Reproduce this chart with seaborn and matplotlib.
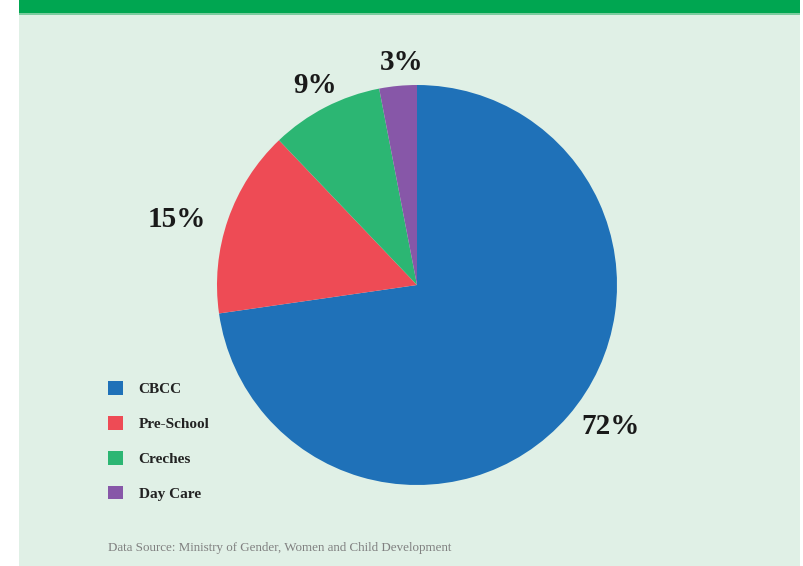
import matplotlib
matplotlib.use("Agg")
import matplotlib.pyplot as plt
from matplotlib.patches import Rectangle, Patch
import seaborn as sns

# Enrolment share by type of early childhood centre
categories = ["CBCC", "Pre-School", "Creches", "Day Care"]
shares = [72, 15, 9, 3]
pct_labels = ["72%", "15%", "9%", "3%"]
source_note = "Data Source: Ministry of Gender, Women and Child Development"

sns.set_theme(style="white")
plt.rcParams["font.family"] = ["Liberation Serif", "DejaVu Serif"]

colors = sns.color_palette(["#1f71b8", "#ee4b55", "#2cb673", "#8757a8"])

W, H = 804, 566
fig = plt.figure(figsize=(W / 100, H / 100), dpi=100, facecolor="white")
ax = fig.add_axes([0, 0, 1, 1])

# panel background and header band
ax.add_patch(Rectangle((19, 0), 781, H, facecolor="#e0f0e6", edgecolor="none", zorder=0))
ax.add_patch(Rectangle((19, H - 13), 781, 13, facecolor="#00a651", edgecolor="none", zorder=1))
ax.add_patch(Rectangle((19, H - 15), 781, 2, facecolor="#7ccc9f", edgecolor="none", zorder=1))

cx, cy, r = 417, H - 285, 200
wedges, _ = ax.pie(shares, colors=colors, startangle=90, counterclock=False,
                   center=(cx, cy), radius=r,
                   wedgeprops=dict(linewidth=0), frame=True)

# percentage labels around the pie (offsets in pie radii)
label_offsets = [(0.97, -0.705), (-1.20, 0.325), (-0.51, 0.995), (-0.075, 1.11)]
for txt, (dx, dy) in zip(pct_labels, label_offsets):
    ax.text(cx + dx * r, cy + dy * r, txt, ha="center", va="center",
            fontsize=21, fontweight="bold", color="#1a1a1a")

handles = [Patch(facecolor=c, edgecolor="none") for c in colors]
leg = ax.legend(handles, categories, loc="upper left",
                bbox_to_anchor=(108 / W, 1 - 381 / H), frameon=False,
                prop=dict(family="Liberation Serif", weight="bold", size=11),
                handlelength=1.0, handleheight=1.0, handletextpad=1.0,
                labelspacing=1.3, borderaxespad=0, borderpad=0)
for t in leg.get_texts():
    t.set_color("#222222")

ax.text(108, H - 548, source_note, ha="left", va="center", fontsize=9.4,
        color="#808080")

ax.set_xlim(0, W)
ax.set_ylim(0, H)
ax.set_aspect("equal")
ax.axis("off")

fig.savefig("out.png", dpi=100, facecolor="white")
